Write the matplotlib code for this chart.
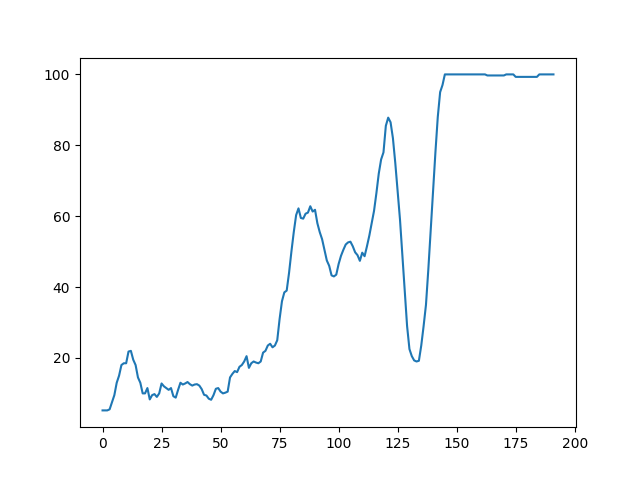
import matplotlib
matplotlib.use("Agg")
import matplotlib.pyplot as plt
import numpy as np

values = [
    5.2, 5.2, 5.2, 5.5, 7.5, 9.5, 13, 15, 18, 18.5,
    18.5, 21.8, 22, 19.5, 18, 14.5, 13, 10, 10, 11.5,
    8.3, 9.5, 9.8, 9, 10, 12.8, 12, 11.5, 11, 11.5,
    9.2, 8.8, 11, 13, 12.5, 12.8, 13.2, 12.6, 12.2, 12.5,
    12.6, 12.2, 11.2, 9.6, 9.4, 8.5, 8.2, 9.5, 11.3, 11.5,
    10.5, 10, 10.2, 10.5, 14.5, 15.5, 16.3, 16, 17.5, 18,
    19, 20.5, 17.2, 18.5, 19, 18.7, 18.5, 19, 21.5, 22,
    23.5, 24, 23, 23.5, 25, 31, 36, 38.5, 39, 44,
    50, 55.5, 60.3, 62.2, 59.5, 59.3, 60.7, 61, 62.8, 61.3,
    61.8, 58, 55.5, 53.5, 50.5, 47.5, 46, 43.3, 43, 43.5,
    46.5, 48.8, 50.5, 52, 52.6, 52.8, 51.5, 49.8, 49, 47.4,
    49.7, 48.7, 51.5, 54.5, 58, 61.5, 66.5, 72, 76, 78,
    85.5, 87.8, 86.5, 82, 75, 67, 59, 49, 39, 29,
    22.5, 20.5, 19.3, 19, 19.2, 23.5, 29, 35, 45, 56,
    67, 78, 88, 95, 97, 100, 100, 100, 100, 100,
    100, 100, 100, 100, 100, 100, 100, 100, 100, 100,
    100, 100, 100, 99.7, 99.7, 99.7, 99.7, 99.7, 99.7, 99.7,
    99.7, 100, 100, 100, 100, 99.3, 99.3, 99.3, 99.3, 99.3,
    99.3, 99.3, 99.3, 99.3, 99.3, 100, 100, 100, 100, 100,
    100, 100,
]
x = np.arange(len(values))

fig, ax = plt.subplots(figsize=(6.4, 4.8), dpi=100)
ax.plot(x, values)
fig.savefig("out.png")
